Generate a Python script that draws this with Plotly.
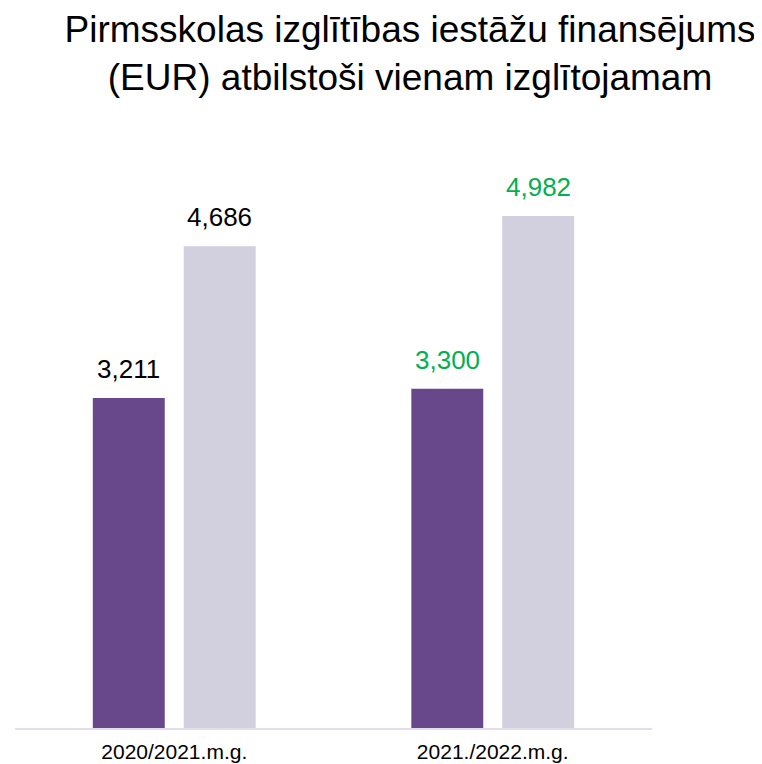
import plotly.graph_objects as go

categories = ["2020/2021.m.g.", "2021./2022.m.g."]
series_a = [3211, 3300]
series_b = [4686, 4982]
label_colors = ["#000000", "#00B050"]
title_text = "Pirmsskolas izglītības iestāžu finansējums<br>(EUR) atbilstoši vienam izglītojamam"

x_pos = list(range(len(categories)))
bargap = 0.429
bargroupgap = 0.209
slot = (1 - bargap) / 2
offsets = [-slot / 2, slot / 2]

fig = go.Figure()
fig.add_trace(go.Bar(x=x_pos, y=series_a, marker_color="#68488A", marker_line_width=0, hoverinfo="y"))
fig.add_trace(go.Bar(x=x_pos, y=series_b, marker_color="#D2CFDF", marker_line_width=0, hoverinfo="y"))

for s_idx, series in enumerate([series_a, series_b]):
    for i, v in enumerate(series):
        fig.add_annotation(
            x=x_pos[i] + offsets[s_idx], y=v, xref="x", yref="y",
            text=f"{v:,}", showarrow=False, yanchor="bottom", xanchor="center",
            yshift=12,
            font=dict(family="Liberation Sans, Arial, sans-serif", size=26, color=label_colors[i]),
        )

fig.update_layout(
    width=762, height=764,
    margin=dict(l=7, r=118, t=142, b=44),
    paper_bgcolor="white", plot_bgcolor="white",
    barmode="group", bargap=bargap, bargroupgap=bargroupgap,
    showlegend=False,
    title=dict(
        text=title_text, x=0.5276, xanchor="center", xref="container",
        y=0.955, yanchor="middle", yref="container",
        font=dict(family="Liberation Sans, Arial, sans-serif", size=37, color="#000000"),
    ),
    font=dict(family="Liberation Sans, Arial, sans-serif", color="#000000"),
    xaxis=dict(
        range=[-0.5, len(categories) - 0.5],
        tickmode="array", tickvals=x_pos, ticktext=categories,
        showline=True, linecolor="#E2DCEC", linewidth=2,
        showgrid=False, zeroline=False, ticks="",
        ticklabelstandoff=4,
        tickfont=dict(size=21, color="#000000"),
    ),
    yaxis=dict(
        range=[0, 5623], visible=False, showgrid=False, zeroline=False,
    ),
)

fig.write_html("out.html")
